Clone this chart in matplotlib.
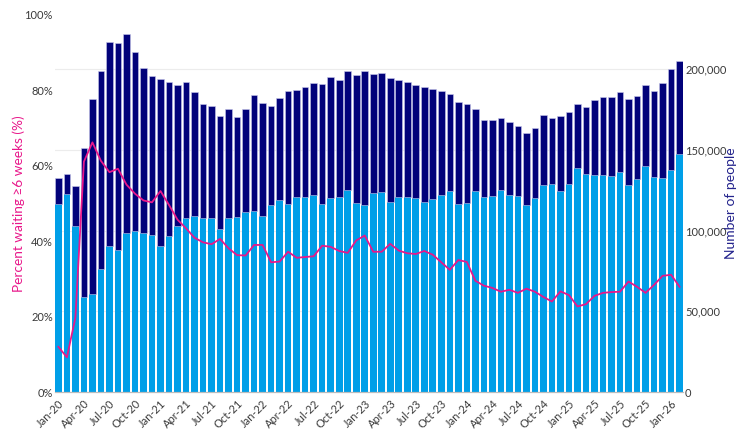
import numpy as np
import matplotlib
matplotlib.use("Agg")
import matplotlib.pyplot as plt

plt.rcParams['font.family'] = ['Lato', 'DejaVu Sans']

# Monthly data, Jan-20 .. Feb-26 (74 months)
total_people = [
    132300, 135000, 127700, 151300, 181400, 198800, 216700, 216300, 221900, 210300,
    200400, 195700, 193600, 191800, 189900, 191800, 185600, 178500, 176900, 171100,
    175000, 170300, 175400, 183700, 178800, 176900, 181900, 186400, 187000, 188900,
    191100, 190700, 195000, 193200, 198600, 196300, 198600, 196900, 197700, 194400,
    193500, 191800, 190100, 188700, 187900, 186600, 184600, 179600, 178100, 175400,
    168400, 168400, 169800, 167400, 164700, 160200, 163300, 171300, 169800, 170800,
    173600, 178100, 176300, 181000, 182800, 182800, 185600, 181400, 183300, 190200,
    186600, 191100, 200100, 204800,
]
under_6_weeks = [
    116400, 122800, 103000, 58800, 60700, 76000, 90400, 87900, 98300, 99700,
    98300, 97200, 90400, 96800, 103000, 107900, 109200, 107600, 107600, 100900,
    107900, 108400, 111600, 112100, 109000, 115800, 118700, 116400, 120600, 120900,
    121800, 116400, 120100, 120600, 125100, 117200, 115800, 123200, 123800, 117600,
    120600, 120900, 120100, 117600, 119300, 122000, 124600, 116400, 116800, 124300,
    120900, 121400, 124900, 122000, 121400, 115800, 120100, 128400, 128800, 124600,
    128800, 138700, 135000, 134400, 134400, 133700, 136400, 128000, 131700, 139900,
    133100, 132300, 137300, 147400,
]
pct_6_weeks_plus = [
    12.0, 9.2, 19.7, 61.1, 66.2, 61.3, 58.3, 59.2, 55.0, 52.6,
    50.8, 50.3, 53.3, 49.6, 45.7, 43.4, 40.9, 39.7, 39.2, 40.6,
    38.1, 36.3, 36.2, 39.0, 39.0, 34.4, 34.6, 37.2, 35.6, 35.8,
    36.0, 38.8, 38.5, 37.4, 36.9, 40.2, 41.5, 37.2, 37.2, 39.3,
    37.5, 36.8, 36.6, 37.4, 36.4, 34.4, 32.4, 35.0, 34.5, 29.5,
    28.2, 27.6, 26.6, 27.1, 26.3, 27.4, 26.6, 25.2, 24.0, 26.7,
    25.7, 22.7, 23.3, 25.5, 26.3, 26.5, 26.6, 29.3, 27.9, 26.3,
    28.4, 30.8, 31.1, 27.9,
]
tick_labels = [
    'Jan-20', 'Apr-20', 'Jul-20', 'Oct-20', 'Jan-21', 'Apr-21', 'Jul-21', 'Oct-21',
    'Jan-22', 'Apr-22', 'Jul-22', 'Oct-22', 'Jan-23', 'Apr-23', 'Jul-23', 'Oct-23',
    'Jan-24', 'Apr-24', 'Jul-24', 'Oct-24', 'Jan-25', 'Apr-25', 'Jul-25', 'Oct-25',
    'Jan-26',
]

light_blue = '#009fe8'
navy = '#02027a'
pink = '#e8178a'
text_col = '#3a3a3a'

total_people = np.array(total_people)
under_6_weeks = np.array(under_6_weeks)
x = np.arange(len(total_people))

fig = plt.figure(figsize=(7.41, 4.29), dpi=100)
ax = fig.add_axes([0.0742, 0.0862, 0.8475, 0.879])
ax2 = ax.twinx()

# Stacked bars on the right (count) axis
ax2.set_axisbelow(True)
ax2.bar(x, under_6_weeks, width=0.78, color=light_blue, zorder=2)
ax2.bar(x, total_people - under_6_weeks, bottom=under_6_weeks, width=0.78,
        color=navy, edgecolor='#c8c8ec', linewidth=0.4, zorder=2)
ax2.set_ylim(0, 233500)
ax2.set_yticks([0, 50000, 100000, 150000, 200000])
ax2.set_yticklabels(['0', '50,000', '100,000', '150,000', '200,000'])
ax2.yaxis.grid(True, color='#ececec', linewidth=0.8, zorder=0)
ax2.set_ylabel('Number of people', color='#23238c', fontsize=10)
ax2.yaxis.set_label_coords(1.067, 0.5)

# Percentage line on the left axis, drawn above the bars
ax.set_zorder(ax2.get_zorder() + 1)
ax.patch.set_visible(False)
ax.plot(x, pct_6_weeks_plus, color=pink, linewidth=1.3, zorder=5)
ax.set_ylim(0, 100)
ax.set_yticks(range(0, 101, 20))
ax.set_yticklabels(['%d%%' % v for v in range(0, 101, 20)])
ax.set_ylabel('Percent waiting \u22656 weeks (%)', color=pink, fontsize=9.8)
ax.yaxis.set_label_coords(-0.048, 0.5)

ax.set_xlim(-0.4, 73.4)
ax.set_xticks(x[::3])
ax.set_xticklabels(tick_labels, rotation=45, ha='right', rotation_mode='anchor')

for a in (ax, ax2):
    for s in ('top', 'left', 'right'):
        a.spines[s].set_visible(False)
    a.spines['bottom'].set_color('#bdbdbd')
    a.tick_params(axis='y', length=0, labelsize=8, labelcolor=text_col, pad=1.5)
ax.tick_params(axis='x', length=0, labelsize=8, labelcolor=text_col, pad=4)

fig.savefig('out.png', dpi=100)
